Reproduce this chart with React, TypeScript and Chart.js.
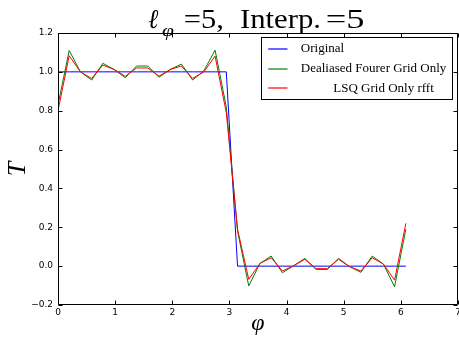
import React, { useEffect, useRef } from "react";
import { Chart, registerables } from "chart.js";

Chart.register(...registerables);

// Grid points (phi) on 32-point grid
const phi = [
  0.0, 0.196, 0.393, 0.589, 0.785, 0.982, 1.178, 1.374, 1.571, 1.767, 1.963, 2.16, 2.356, 2.553, 2.749, 2.945,
  3.142, 3.338, 3.534, 3.731, 3.927, 4.123, 4.32, 4.516, 4.712, 4.909, 5.105, 5.301, 5.498, 5.694, 5.89, 6.087,
];

const original = [
  1, 1, 1, 1, 1, 1, 1, 1, 1, 1, 1, 1, 1, 1, 1, 1,
  0, 0, 0, 0, 0, 0, 0, 0, 0, 0, 0, 0, 0, 0, 0, 0,
];

const dealiased = [
  0.83, 1.11, 1.0, 0.958, 1.044, 1.012, 0.97, 1.03, 1.03, 0.972, 1.012, 1.04, 0.958, 1.005, 1.112, 0.82,
  0.18, -0.102, 0.014, 0.052, -0.034, 0.002, 0.04, -0.017, -0.017, 0.04, -0.003, -0.032, 0.052, 0.011, -0.106, 0.19,
];

const lsq = [
  0.8, 1.083, 1.0, 0.966, 1.035, 1.012, 0.977, 1.02, 1.02, 0.978, 1.012, 1.03, 0.966, 1.0, 1.081, 0.79,
  0.19, -0.068, 0.014, 0.043, -0.025, 0.002, 0.035, -0.013, -0.013, 0.035, -0.003, -0.025, 0.043, 0.011, -0.072, 0.22,
];

const xTicks = [0, 1, 2, 3, 4, 5, 6, 7];
const yTicks = [-0.2, 0, 0.2, 0.4, 0.6, 0.8, 1.0, 1.2];

const seriesLabels = ["Original", "Dealiased Fourer Grid Only", "          LSQ Grid Only rfft"];
const seriesColors = ["#0000ff", "#008000", "#ff0000"];

const toPoints = (ys: number[]) => ys.map((y, i) => ({ x: phi[i], y }));

const framePlugin = {
  id: "frame",
  afterDraw(chart: any) {
    const { ctx, chartArea } = chart;
    const { left, right, top, bottom } = chartArea;
    const xs = chart.scales.x;
    const ys = chart.scales.y;
    ctx.save();
    ctx.strokeStyle = "#000";
    ctx.lineWidth = 1;
    const L = Math.round(left) + 0.5;
    const R = Math.round(right) - 0.5;
    const T = Math.round(top) + 0.5;
    const B = Math.round(bottom) - 0.5;
    ctx.beginPath();
    ctx.rect(L, T, R - L, B - T);
    ctx.stroke();
    const len = 4;
    ctx.beginPath();
    xTicks.forEach((v) => {
      const px = Math.round(xs.getPixelForValue(v)) + 0.5;
      ctx.moveTo(px, B);
      ctx.lineTo(px, B - len);
      ctx.moveTo(px, T);
      ctx.lineTo(px, T + len);
    });
    yTicks.forEach((v) => {
      const py = Math.round(ys.getPixelForValue(v)) + 0.5;
      ctx.moveTo(L, py);
      ctx.lineTo(L + len, py);
      ctx.moveTo(R, py);
      ctx.lineTo(R - len, py);
    });
    ctx.stroke();
    ctx.restore();
  },
};

const titleParts = [
  { text: "\u2113", x0: 148, x1: 159, size: 27, italic: true, base: 28 },
  { text: "\u03c6", x0: 162, x1: 177, size: 16, italic: true, base: 36 },
  { text: "=5,", x0: 185, x1: 223, size: 27, italic: false, base: 28 },
  { text: "Interp.", x0: 240, x1: 319, size: 27, italic: false, base: 28 },
  { text: "=5", x0: 327, x1: 367, size: 27, italic: false, base: 28 },
];

const titlePlugin = {
  id: "mathTitle",
  afterDraw(chart: any) {
    const { ctx } = chart;
    ctx.save();
    ctx.fillStyle = "#000";
    ctx.textAlign = "left";
    ctx.textBaseline = "alphabetic";
    titleParts.forEach((p) => {
      ctx.font = `${p.italic ? "italic " : ""}${p.size}px "Liberation Serif", serif`;
      const m = ctx.measureText(p.text);
      const bl = m.actualBoundingBoxLeft || 0;
      const br = m.actualBoundingBoxRight || m.width;
      const gw = bl + br;
      let sx = (p.x1 - p.x0) / gw;
      sx = Math.max(0.8, Math.min(1.35, sx));
      ctx.save();
      ctx.translate(p.x0, p.base);
      ctx.scale(sx, 1);
      ctx.fillText(p.text, bl, 0);
      ctx.restore();
    });
    ctx.restore();
  },
};

const legendPlugin = {
  id: "boxLegend",
  afterDraw(chart: any) {
    const { ctx, chartArea } = chart;
    ctx.save();
    ctx.font = '13px "Liberation Serif", serif';
    const padL = 7.4;
    const lineLen = 19.3;
    const gap = 13.3;
    const padR = 5.7;
    const rowH = 19.6;
    const firstRow = 11.7;
    const widths = seriesLabels.map((t) => ctx.measureText(t).width);
    const maxW = Math.max(...widths);
    const boxW = padL + lineLen + gap + maxW + padR;
    const boxH = 61.7;
    const right = chartArea.right - 6;
    const left = right - boxW;
    const top = chartArea.top + 4.3;
    ctx.fillStyle = "#fff";
    ctx.fillRect(left, top, boxW, boxH);
    ctx.strokeStyle = "#000";
    ctx.lineWidth = 1;
    ctx.strokeRect(Math.round(left) + 0.5, Math.round(top) + 0.5, Math.round(boxW), Math.round(boxH));
    ctx.textBaseline = "middle";
    ctx.textAlign = "left";
    seriesLabels.forEach((label, i) => {
      const y = top + firstRow + i * rowH;
      ctx.strokeStyle = seriesColors[i];
      ctx.lineWidth = 1.2;
      ctx.beginPath();
      ctx.moveTo(left + padL, Math.round(y));
      ctx.lineTo(left + padL + lineLen, Math.round(y));
      ctx.stroke();
      ctx.fillStyle = "#000";
      ctx.fillText(label, left + padL + lineLen + gap, y);
    });
    ctx.restore();
  },
};

export default function App() {
  const ref = useRef<HTMLCanvasElement>(null);
  useEffect(() => {
    const canvas = ref.current;
    if (!canvas) return;
    const series = [original, dealiased, lsq];
    const chart = new Chart(canvas, {
      type: "line",
      data: {
        datasets: series.map((s, i) => ({
          label: seriesLabels[i],
          data: toPoints(s),
          borderColor: seriesColors[i],
          backgroundColor: seriesColors[i],
          borderWidth: 1,
          pointRadius: 0,
          tension: 0,
          fill: false,
          order: 3 - i,
        })),
      },
      options: {
        animation: false,
        responsive: false,
        devicePixelRatio: 1,
        layout: { padding: { left: 0, right: 1, top: 33, bottom: 0 } },
        plugins: {
          legend: { display: false },
          title: { display: false },
          tooltip: { enabled: false },
        },
        scales: {
          x: {
            type: "linear",
            min: 0,
            max: 7,
            grid: { display: false, drawTicks: false },
            border: { display: false },
            afterBuildTicks: (s: any) => {
              s.ticks = xTicks.map((v) => ({ value: v }));
            },
            afterFit: (s: any) => {
              s.height = 33;
              s.paddingLeft = 0;
              s.paddingRight = 0;
            },
            ticks: {
              autoSkip: false,
              maxRotation: 0,
              minRotation: 0,
              padding: 2,
              color: "#000",
              font: { family: '"DejaVu Sans", sans-serif', size: 9 },
              callback: (v: any) => String(v),
            },
            title: {
              display: true,
              text: "\u03c6",
              color: "#000",
              padding: { top: 0, bottom: 0 },
              font: { family: '"Liberation Serif", serif', style: "italic", size: 24 },
            },
          },
          y: {
            type: "linear",
            min: -0.2,
            max: 1.2,
            grid: { display: false, drawTicks: false },
            border: { display: false },
            afterBuildTicks: (s: any) => {
              s.ticks = yTicks.map((v) => ({ value: v }));
            },
            afterFit: (s: any) => {
              s.width = 58;
              s.paddingTop = 0;
              s.paddingBottom = 0;
            },
            ticks: {
              autoSkip: false,
              padding: 5,
              color: "#000",
              font: { family: '"DejaVu Sans", sans-serif', size: 9 },
              callback: (v: any) => Number(v).toFixed(1).replace("-", "\u2212"),
            },
            title: {
              display: true,
              text: "T",
              color: "#000",
              padding: { top: 3, bottom: 0 },
              font: { family: '"Liberation Serif", serif', style: "italic", size: 26 },
            },
          },
        },
      },
      plugins: [framePlugin, titlePlugin, legendPlugin],
    } as any);
    return () => chart.destroy();
  }, []);
  return (
    <div style={{ position: "absolute", left: 0, top: 0, width: 459, height: 338, background: "#fff" }}>
      <canvas ref={ref} width={459} height={338} style={{ display: "block" }} />
    </div>
  );
}
